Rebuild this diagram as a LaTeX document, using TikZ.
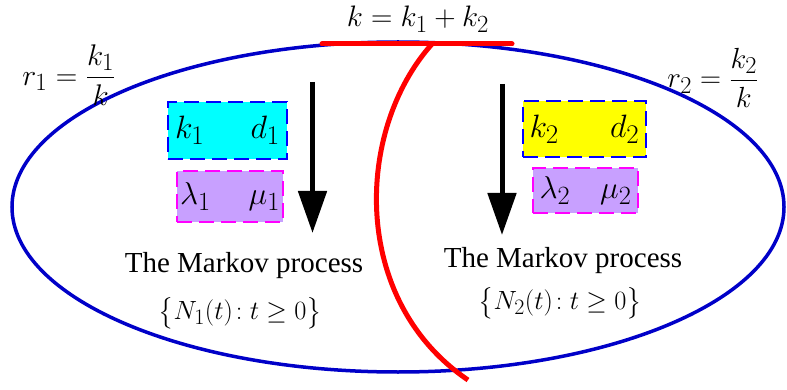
\documentclass[tikz,border=0pt]{standalone}
\usepackage{amsmath}
\usepackage{graphicx}
\usepackage{fontspec}
\setmainfont{Liberation Serif}
\usepackage{xcolor}
\usetikzlibrary{positioning}
\usetikzlibrary{arrows.meta}

\definecolor{ellblue}{RGB}{0,0,200}
\definecolor{lavender}{RGB}{200,160,255}
\definecolor{aqua}{RGB}{0,255,255}
\definecolor{lemon}{RGB}{255,255,0}
\definecolor{fuchsia}{RGB}{255,0,255}
\definecolor{dashblue}{RGB}{0,0,255}

% formula ingrandita (i font matematici si fermano a 24.88pt)
\newcommand{\zoommath}[2]{\scalebox{#1}{$#2$}}

\begin{document}
\begin{tikzpicture}[
                x=1pt, y=-1pt,
                math font/.style = {font=\fontsize{24.88}{30}\selectfont, inner sep=0pt},
                param box/.style = {math font, draw=dashblue, line width=2.7pt, dash pattern=on 15pt off 7pt,
                                    anchor=center},
                rate box/.style = {param box, fill=lavender, draw=fuchsia},
                flow/.style = {-{Triangle[length=42pt, width=28pt]}, line width=5pt, black},
                % Stile per le etichette di testo
                caption/.style = {font=\fontsize{29}{34}\selectfont, anchor=base, inner sep=0pt}
                ]

                \useasboundingbox (0,0) rectangle (787,390);

                % --- Ellisse e taglio ---
                \draw[ellblue, line width=3.5pt] (398,207) ellipse (386 and 165);
                \coordinate (barL) at (322,44);
                \coordinate (barR) at (512,44);
                \coordinate (cutT) at (432,44);
                \coordinate (cutB) at (468,380);
                \draw[red, line width=5pt, line cap=round] (barL) -- (barR);
                \draw[red, line width=5pt] (cutT) .. controls (355,130) and (350,300) .. (cutB);

                % --- Formule in alto ---
                \node[math font] (ksum) at (418,19) {\zoommath{1.19}{k=k_1+k_2}};
                \node[math font] (r1) at (69,75) {\zoommath{1.2}{r_1=\dfrac{k_1}{k}}};
                \node[math font] (r2) at (713,78) {\zoommath{1.17}{r_2=\dfrac{k_2}{k}}};

                % --- Parametri ---
                \node[param box, fill=aqua, minimum width=119pt, minimum height=57pt] (par1) at (227.5,130.5)
                      {\makebox[105pt]{\zoommath{1.3}{k_1}\hfill\zoommath{1.3}{d_1}}};
                \node[rate box, minimum width=106pt, minimum height=51pt] (rate1) at (230,196.5)
                      {\makebox[100pt]{\zoommath{1.27}{\lambda_1}\hfill\zoommath{1.27}{\mu_1}}};
                \node[param box, fill=lemon, minimum width=123pt, minimum height=56pt] (par2) at (584.5,129)
                      {\makebox[110pt]{\zoommath{1.3}{k_2}\hfill\zoommath{1.3}{d_2}}};
                \node[rate box, minimum width=105pt, minimum height=45pt] (rate2) at (585.5,190.5)
                      {\makebox[92pt]{\zoommath{1.27}{\lambda_2}\hfill\zoommath{1.27}{\mu_2}}};

                % --- Frecce ---
                \coordinate (a1) at (312.5,82);
                \coordinate (b1) at (312.5,233);
                \coordinate (a2) at (502,84);
                \coordinate (b2) at (502,235);
                \draw[flow] (a1) -- (b1);
                \draw[flow] (a2) -- (b2);

                % --- Processi di Markov ---
                \node[caption] (proc1) at (244,272) {The Markov process};
                \node[math font] (set1) at (240,313) {\zoommath{1.06}{\bigl\{N_1(t)\!:t\geq 0\bigr\}}};
                \node[caption] (proc2) at (563,267) {The Markov process};
                \node[math font] (set2) at (560,303) {\zoommath{1.06}{\bigl\{N_2(t)\!:t\geq 0\bigr\}}};

            \end{tikzpicture}
\end{document}
